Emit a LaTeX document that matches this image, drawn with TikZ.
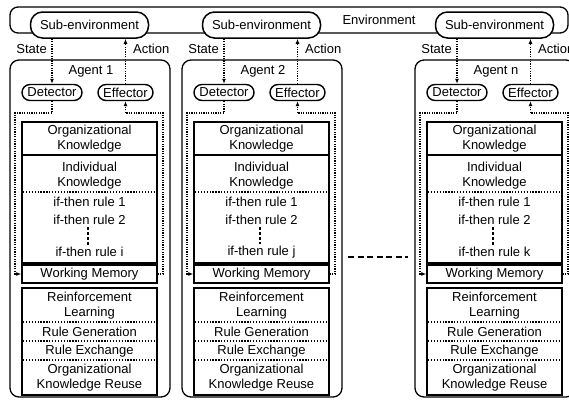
\documentclass[tikz,border=0pt]{standalone}
\usepackage{fontspec}
\setmainfont{Liberation Sans}
\usetikzlibrary{arrows.meta}
\begin{document}
\begin{tikzpicture}[x=1pt,y=-1pt,
  font=\fontsize{13}{15}\selectfont,
  envbox/.style={draw, line width=1.3pt, rounded corners=8pt, inner sep=0pt},
  agentbox/.style={draw, line width=1.3pt, rounded corners=9pt, minimum width=160pt, minimum height=337pt, inner sep=0pt},
  subenv/.style={draw, fill=white, line width=1.5pt, rounded corners=12pt, minimum width=118pt, minimum height=26pt, inner sep=0pt},
  pill/.style={draw, fill=white, line width=1.4pt, rounded corners=8pt, minimum height=16pt, inner sep=0pt},
  box/.style={draw, line width=1.5pt, minimum width=135pt, inner sep=0pt, align=center},
  txt/.style={inner sep=2pt, align=center},
  flow/.style={line width=1.1pt, dash pattern=on 1.2pt off 1.2pt, -{Latex[length=5pt,width=4pt]}},
  sepline/.style={line width=1.3pt, dash pattern=on 1.3pt off 1.6pt},
  vdash/.style={line width=1.3pt, dash pattern=on 3pt off 2pt},
  bigdash/.style={line width=2pt, dash pattern=on 6pt off 3.5pt}
]
\path[use as bounding box, clip] (0,0) rectangle (569,400);
\node[envbox, minimum width=558pt, minimum height=26pt] (env) at (289,20) {};
\node[txt] (envlab) at (379,20) {Environment};
\foreach \dx/\n/\r [count=\i] in {0/1/i, 172/2/j, 405/n/k} {
  \node[agentbox] (ag\i) at (\dx+90,228.5) {};
  \node[subenv] (sub\i) at (\dx+89.5,25) {Sub-environment};
  \node[txt] (aglab\i) at (\dx+91,71) {Agent \n};
  \node[pill, minimum width=60pt] (det\i) at (\dx+52,92.5) {Detector};
  \node[pill, minimum width=55pt] (eff\i) at (\dx+125.5,92.5) {Effector};
  \node[txt, anchor=east] (st\i) at (\dx+49,49) {State};
  \node[txt, anchor=west] (ac\i) at (\dx+131,49) {Action};
  \draw[flow] (det\i.north |- sub\i.south) -- (det\i.north);
  \draw[flow] (eff\i.north) -- (eff\i.north |- sub\i.south);
  % knowledge boxes
  \node[box, minimum height=33pt] (org\i) at (\dx+89.5,138.5) {Organizational\\Knowledge};
  \node[box, minimum height=108pt] (ind\i) at (\dx+89.5,209) {};
  \node[txt] (indt\i) at (\dx+89.5,175.5) {Individual\\Knowledge};
  \draw[sepline] (\dx+23,192) -- (\dx+156,192);
  \node[txt] (ra\i) at (\dx+89.5,202) {if-then rule 1};
  \node[txt] (rb\i) at (\dx+89.5,220) {if-then rule 2};
  \node[txt] (rc\i) at (\dx+89.5,252) {if-then rule \r};
  \draw[vdash] ([xshift=-1.5pt]rb\i.south) -- ([xshift=-1.5pt]rc\i.north);
  \node[box, minimum height=18pt] (wm\i) at (\dx+89.5,274) {Working Memory};
  % learning box
  \node[box, minimum height=107pt] (lrn\i) at (\dx+89.5,341.5) {};
  \node[txt] (rl\i) at (\dx+89.5,306) {Reinforcement\\Learning};
  \draw[sepline] (\dx+23,322) -- (\dx+156,322);
  \node[txt] (rg\i) at (\dx+89.5,332) {Rule Generation};
  \draw[sepline] (\dx+23,341) -- (\dx+156,341);
  \node[txt] (rx\i) at (\dx+89.5,351) {Rule Exchange};
  \draw[sepline] (\dx+23,360) -- (\dx+156,360);
  \node[txt] (okr\i) at (\dx+89.5,377.5) {Organizational\\Knowledge Reuse};
  % loops
  \coordinate (ll\i) at (\dx+15,113);
  \coordinate (lr\i) at (\dx+163,113);
  \draw[flow] (det\i.south) |- (ll\i) |- (wm\i.west);
  \draw[flow] (wm\i.east) -| (lr\i) -| (eff\i.south);
}
\coordinate (dl) at (348,257);
\coordinate (dr) at (408,257);
\draw[bigdash] (dl) -- (dr);
\end{tikzpicture}
\end{document}
